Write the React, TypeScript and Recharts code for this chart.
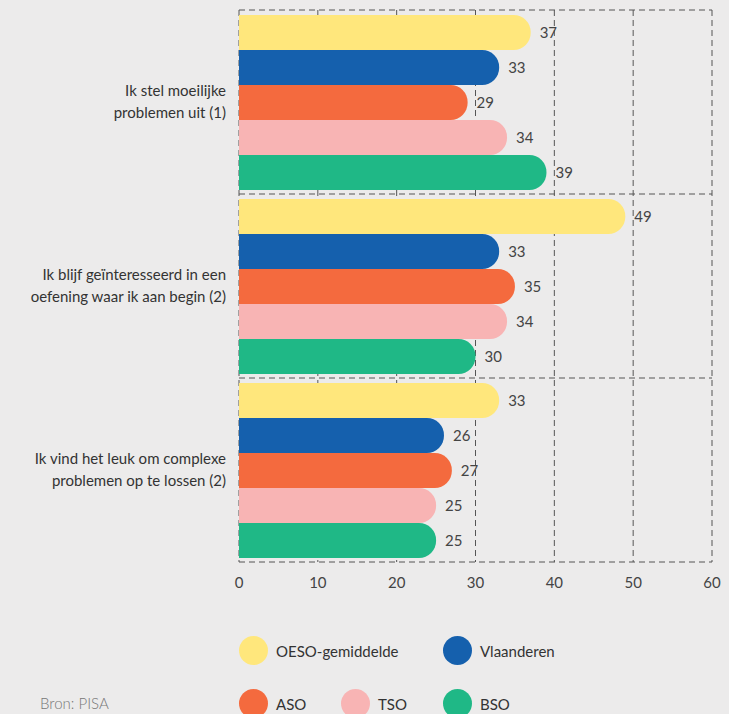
import { Bar, BarChart, CartesianGrid, LabelList, Legend, XAxis, YAxis } from "recharts"

// statements (y categories)
const categories = [
  "Ik stel moeilijke\nproblemen uit (1)",
  "Ik blijf geïnteresseerd in een\noefening waar ik aan begin (2)",
  "Ik vind het leuk om complexe\nproblemen op te lossen (2)",
]

const seriesNames = ["OESO-gemiddelde", "Vlaanderen", "ASO", "TSO", "BSO"]
const seriesColors = ["#ffe77c", "#1560ad", "#f46a3e", "#f8b4b4", "#1fb886"]

const oeso = [37, 49, 33]
const vlaanderen = [33, 33, 26]
const aso = [29, 35, 27]
const tso = [34, 34, 25]
const bso = [39, 30, 25]

const xTicks = [0, 10, 20, 30, 40, 50, 60]

const seriesValues = [oeso, vlaanderen, aso, tso, bso]
const keys = ["s0", "s1", "s2", "s3", "s4"]

const data = categories.map((name, i) => {
  const row: Record<string, string | number> = { name }
  seriesValues.forEach((vals, s) => {
    row[keys[s]] = vals[i]
  })
  return row
})

const FONT = "Lato, 'Open Sans', sans-serif"

function CategoryTick(props: any) {
  const { y, payload } = props
  const x = props.x - 5
  const lines = String(payload.value).split("\n")
  const lh = 22
  return (
    <text x={x} y={y} textAnchor="end" fill="#333" fontSize={15} fontFamily={FONT}>
      {lines.map((l, i) => (
        <tspan key={i} x={x} y={y + (i - (lines.length - 1) / 2) * lh} dy="0.35em">
          {l}
        </tspan>
      ))}
    </text>
  )
}

function LegendContent() {
  return (
    <div style={{ display: "flex", flexWrap: "wrap", width: 306, rowGap: 24, fontFamily: FONT }}>
      {seriesNames.map((n, i) => (
        <div
          key={n}
          style={{ display: "flex", alignItems: "center", width: i === 0 ? 204 : 102, whiteSpace: "nowrap" }}
        >
          <span
            style={{
              display: "inline-block",
              width: 29,
              height: 29,
              borderRadius: "50%",
              background: seriesColors[i],
              marginRight: 8,
              flexShrink: 0,
            }}
          />
          <span style={{ fontSize: 15, color: "#333" }}>{n}</span>
        </div>
      ))}
    </div>
  )
}

export default function App() {
  return (
    <div style={{ position: "absolute", left: 0, top: 0, width: 729, height: 714, background: "#ecebeb" }}>
      <BarChart
        width={729}
        height={714}
        data={data}
        layout="vertical"
        margin={{ top: 10, right: 17, bottom: 122, left: 0 }}
        barCategoryGap={5}
        barGap={0}
      >
        <CartesianGrid
          stroke="#555"
          strokeDasharray="6 4"
          horizontalCoordinatesGenerator={({ offset }: any) =>
            [0, 1, 2, 3].map((i) => offset.top + (i * offset.height) / 3)
          }
        />
        <XAxis
          type="number"
          domain={[0, 60]}
          ticks={xTicks}
          axisLine={false}
          tickLine={false}
          tickMargin={9}
          height={30}
          tick={{ fill: "#444", fontSize: 15, fontFamily: FONT }}
        />
        <YAxis
          type="category"
          dataKey="name"
          width={239}
          axisLine={false}
          tickLine={false}
          tick={<CategoryTick />}
        />
        <Legend
          layout="horizontal"
          verticalAlign="middle"
          align="center"
          content={<LegendContent />}
          wrapperStyle={{ left: 239, top: 636, width: 330 }}
        />
        {keys.map((k, s) => (
          <Bar
            key={k}
            dataKey={k}
            name={seriesNames[s]}
            fill={seriesColors[s]}
            radius={[0, 17, 17, 0]}
            isAnimationActive={false}
          >
            <LabelList dataKey={k} position="right" offset={9} fill="#444" fontSize={15} fontFamily={FONT} />
          </Bar>
        ))}
      </BarChart>
      <div
        style={{
          position: "absolute",
          left: 40,
          top: 694,
          fontSize: 15,
          color: "#777",
          fontFamily: FONT,
          fontWeight: 300,
        }}
      >
        Bron: PISA
      </div>
    </div>
  )
}
